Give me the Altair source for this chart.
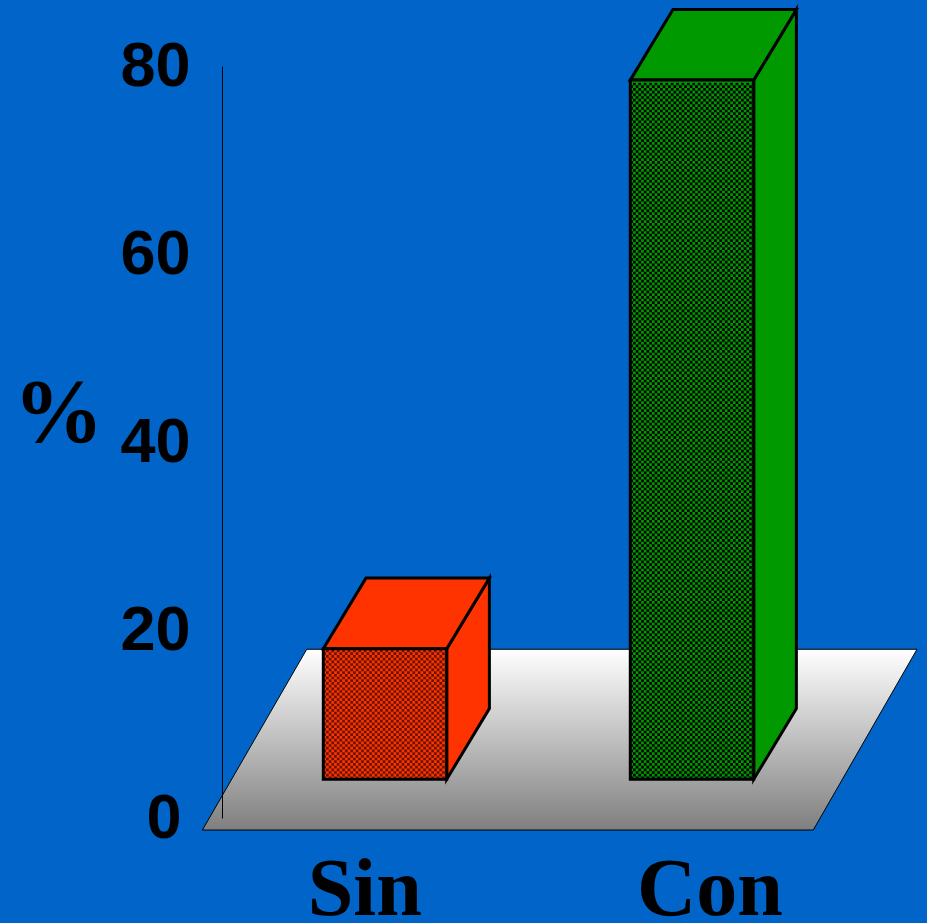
import altair as alt
import numpy as np
import pandas as pd

# ---- data ----
categories = ["Sin", "Con"]
values = [18, 78.5]                      # % (front-top of each bar read on the axis)
top_colors = ["#FF3300", "#009900"]      # solid colour of top / side faces
pattern_opacity = [0.6, 1.0]             # darkness of the front-face texture
y_ticks = [0, 20, 40, 60, 80]

# ---- layout constants (data units of the two scales) ----
BG = "#0064C8"
X_DOMAIN = [-0.531, 1.7655]              # category index units
Y_DOMAIN = [0, 80]
PX_PER_Y = 752 / 80
BAR_HALF = 0.201
DEPTH_X = 0.139
DEPTH_Y = 7.52
BASE = 4.12
FLOOR_FRONT_Y, FLOOR_BACK_Y = -1.28, 17.95
FLOOR_FRONT_X = (-0.595, 1.395)
FLOOR_BACK_X = (-0.255, 1.733)
LABEL_SHIFT = [-0.066, 0.0586]
LABEL_Y = -10.3
CELL_PX = 2.7

xs = alt.Scale(domain=X_DOMAIN, nice=False, zero=False)
ys = alt.Scale(domain=Y_DOMAIN, nice=False, zero=False)

y_axis = alt.Axis(
    values=y_ticks, format="d", title="%", titleAngle=0,
    titleFont="Liberation Serif", titleFontSize=90, titleFontWeight="bold",
    titleColor="black", titleX=-164, titleY=348, titleAlign="center",
    titleBaseline="middle",
    labelFont="Liberation Sans", labelFontSize=63, labelFontWeight="bold",
    labelColor="black", labelAlign="right", labelBaseline="middle",
    labelPadding={"condition": {"test": "datum.value === 0", "value": 41}, "value": 32},
    labelOverlap=False, labelBound=False,
    ticks=False, tickSize=0, grid=False,
    domainColor="black", domainWidth=1, zindex=1,
)

def Y(field):
    return alt.Y(field, scale=ys, axis=y_axis)

def X(field):
    return alt.X(field, scale=xs, axis=None)

# floor
floor_df = pd.DataFrame({
    "fy": [FLOOR_FRONT_Y, FLOOR_BACK_Y],
    "fx": [FLOOR_FRONT_X[0], FLOOR_BACK_X[0]],
    "fx2": [FLOOR_FRONT_X[1], FLOOR_BACK_X[1]],
})
floor = alt.Chart(floor_df).mark_area(
    orient="horizontal", stroke="black", strokeWidth=1,
    color=alt.Gradient(
        gradient="linear",
        stops=[alt.GradientStop(color="#FFFFFF", offset=0),
               alt.GradientStop(color="#7F7F7F", offset=1)],
        x1=0, x2=0, y1=0, y2=1),
).encode(y=Y("fy:Q"), x=X("fx:Q"), x2="fx2:Q")

side_rows, top_rows, front_rows, label_rows, grid_rows = [], [], [], [], []
for i, (c, v, col, op) in enumerate(zip(categories, values, top_colors, pattern_opacity)):
    L, R = i - BAR_HALF, i + BAR_HALF
    side_rows += [
        {"cat": c, "col": col, "sx": R, "sy": BASE, "sy2": v},
        {"cat": c, "col": col, "sx": R + DEPTH_X, "sy": BASE + DEPTH_Y, "sy2": v + DEPTH_Y},
    ]
    top_rows += [
        {"cat": c, "col": col, "ty": v, "tx": L, "tx2": R},
        {"cat": c, "col": col, "ty": v + DEPTH_Y, "tx": L + DEPTH_X, "tx2": R + DEPTH_X},
    ]
    front_rows.append({"cat": c, "col": col, "x": L, "x2": R, "y": BASE, "y2": v})
    label_rows.append({"cat": c, "lx": i + LABEL_SHIFT[i], "ly": LABEL_Y})
    cell = CELL_PX / PX_PER_Y
    n = int((v - BASE) / cell)
    for k in range(n):
        grid_rows.append({"cat": c, "gx": L, "gx2": R,
                          "gy": BASE + (k + 0.5) * cell, "par": k % 2, "op": op})

side_df = pd.DataFrame(side_rows)
top_df = pd.DataFrame(top_rows)
front_df = pd.DataFrame(front_rows)
label_df = pd.DataFrame(label_rows)
grid_df = pd.DataFrame(grid_rows)

sides = alt.Chart(side_df).mark_area(
    orient="vertical", stroke="black", strokeWidth=3, opacity=1
).encode(
    x=X("sx:Q"), y=Y("sy:Q"), y2="sy2:Q",
    color=alt.Color("col:N", scale=None), detail="cat:N",
)
tops = alt.Chart(top_df).mark_area(
    orient="horizontal", stroke="black", strokeWidth=3, opacity=1
).encode(
    y=Y("ty:Q"), x=X("tx:Q"), x2="tx2:Q",
    color=alt.Color("col:N", scale=None), detail="cat:N",
)
fronts = alt.Chart(front_df).mark_rect(opacity=1).encode(
    x=X("x:Q"), x2="x2:Q", y=Y("y:Q"), y2="y2:Q",
    color=alt.Color("col:N", scale=None),
)

def checker(par, offset):
    return alt.Chart(grid_df).transform_filter(f"datum.par == {par}").mark_rule(
        color="black", strokeWidth=CELL_PX, strokeDash=[CELL_PX, CELL_PX],
        strokeDashOffset=offset, strokeCap="butt",
    ).encode(
        x=X("gx:Q"), x2="gx2:Q", y=Y("gy:Q"),
        opacity=alt.Opacity("op:Q", scale=None),
    )

outlines = alt.Chart(front_df).mark_rect(
    fillOpacity=0, stroke="black", strokeWidth=3
).encode(x=X("x:Q"), x2="x2:Q", y=Y("y:Q"), y2="y2:Q")

labels = alt.Chart(label_df).mark_text(
    font="Liberation Serif", fontSize=82, fontWeight="bold", color="black",
    align="center", baseline="alphabetic",
).encode(x=X("lx:Q"), y=Y("ly:Q"), text="cat:N")

chart = alt.layer(
    floor, sides, tops, fronts, checker(0, 0), checker(1, CELL_PX), outlines, labels
).properties(
    width=705, height=752,
    background=BG,
    autosize=alt.AutoSizeParams(type="none"),
    padding={"left": 222, "top": 66, "right": 0, "bottom": 105},
).configure_view(stroke=None)

chart.save("out.html", embed_options={"renderer": "svg", "actions": False})
